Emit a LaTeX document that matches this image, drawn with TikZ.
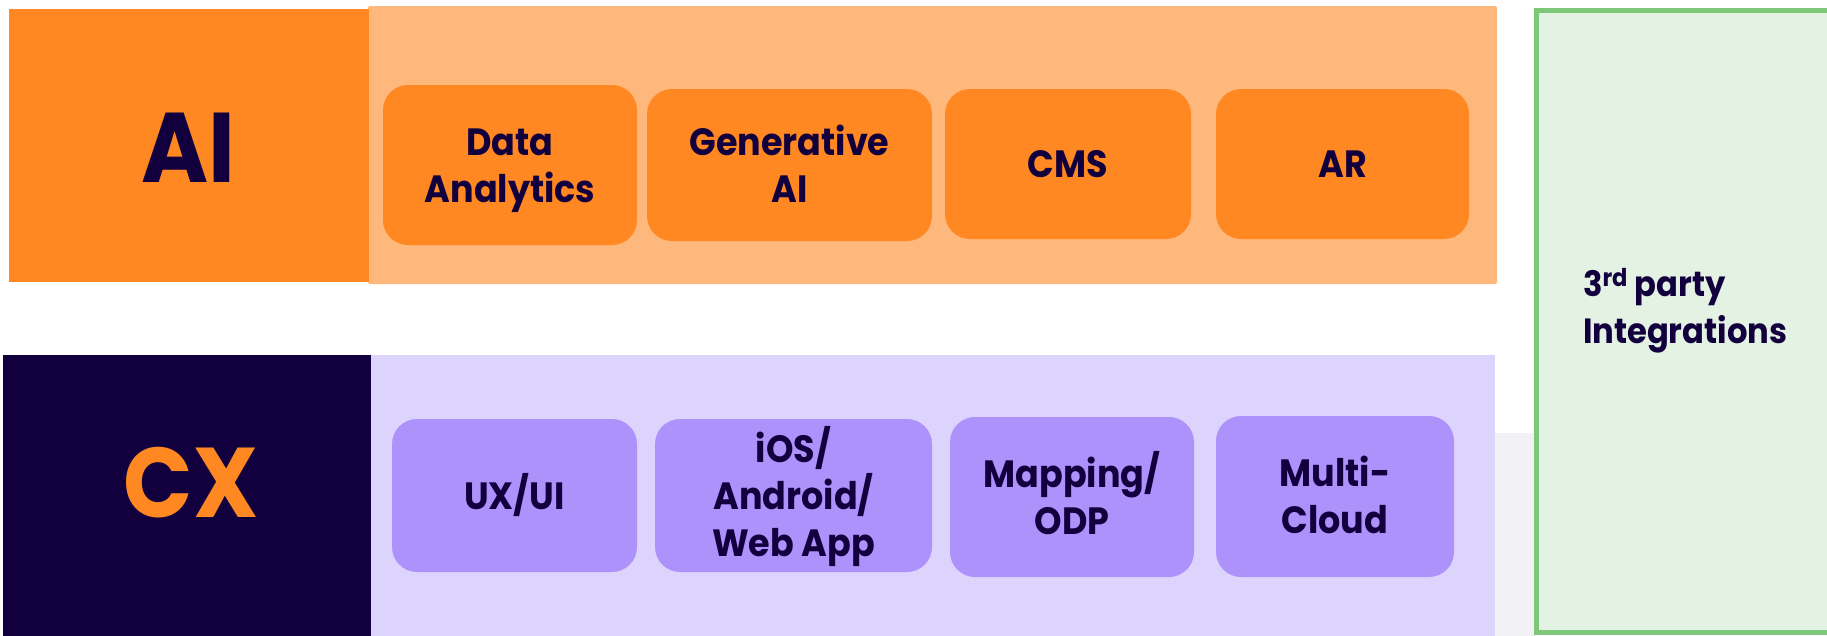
\documentclass[tikz,border=0pt]{standalone}
\usepackage{fontspec}
\setmainfont{Poppins}[FakeStretch=0.92]
\definecolor{aiorange}{HTML}{FF8822}
\definecolor{panelorange}{HTML}{FFB87B}
\definecolor{navy}{HTML}{12003E}
\definecolor{panellav}{HTML}{DDD4FD}
\definecolor{boxlav}{HTML}{AD92FC}
\definecolor{greenfill}{HTML}{E3F2E3}
\definecolor{greenline}{HTML}{7DC878}
\definecolor{stripgray}{HTML}{F2F1F6}
\newcommand\capl[1]{\rule{0pt}{27pt}\smash{#1}}
\newcommand\capbig[1]{\rule{0pt}{69pt}\smash{#1}}
\newcommand\capsm[1]{\rule{0pt}{24pt}\smash{#1}}
\tikzset{
  flat/.style={inner sep=0pt, outer sep=0pt, draw=none},
  tile/.style={flat, rounded corners=25pt, align=center, text=navy,
    font=\fontsize{38}{47}\selectfont\bfseries},
  aitile/.style={tile, fill=aiorange},
  cxtile/.style={tile, fill=boxlav},
  biglabel/.style={flat, font=\fontsize{99}{99}\selectfont\bfseries}
}
\begin{document}
\begin{tikzpicture}[x=1pt,y=-1pt]
\useasboundingbox (0,0) rectangle (1827,635);
\clip (0,0) rectangle (1827,635);
\fill[white] (0,0) rectangle (1827,635);
% AI row
\node[flat, fill=panelorange, rounded corners=2pt, minimum width=1129pt, minimum height=278pt] (aipanel) at (932.5,145) {};
\node[flat, fill=aiorange, minimum width=360pt, minimum height=273pt] (ai) at (189,145.5) {};
\node[biglabel, text=navy] (ailabel) at (188.5,147.5) {\capbig{AI}};
\node[aitile, minimum width=254pt, minimum height=160pt] (da) at (510,165) {\capl{Data}\\\capl{Analytics}};
\node[aitile, minimum width=285pt, minimum height=152pt] (gen) at (789.5,165) {\capl{Generative}\\\capl{AI}};
\node[aitile, minimum width=246pt, minimum height=150pt] (cms) at (1068,164) {\capl{CMS}};
\node[aitile, minimum width=253pt, minimum height=150pt] (ar) at (1342.5,164) {\capl{AR}};
% CX row
\node[flat, fill=stripgray, minimum width=41pt, minimum height=210pt] (strip) at (1515,538) {};
\node[flat, fill=panellav, minimum width=1124pt, minimum height=285pt] (cxpanel) at (933,497.5) {};
\node[flat, fill=navy, minimum width=368pt, minimum height=285pt] (cx) at (187,497.5) {};
\node[biglabel, text=aiorange] (cxlabel) at (191,482.5) {\capbig{CX}};
\node[cxtile, minimum width=245pt, minimum height=153pt] (ux) at (514.5,495.5) {\capl{UX/UI}};
\node[cxtile, minimum width=277pt, minimum height=153pt] (ios) at (793.5,495.5) {\capl{iOS/}\\\capl{Android/}\\\capl{Web App}};
\node[cxtile, minimum width=244pt, minimum height=160pt] (map) at (1072,497) {\capl{Mapping/}\\\capl{ODP}};
\node[cxtile, minimum width=238pt, minimum height=161pt] (mc) at (1335,496.5) {\capl{Multi-}\\\capl{Cloud}};
% 3rd party
\node[flat, fill=greenfill, draw=greenline, line width=5pt, minimum width=300pt, minimum height=622pt, anchor=north west] (third) at (1536.5,10) {};
\node[flat, anchor=north west, align=left, text=navy, font=\fontsize{35}{47}\selectfont\bfseries] (thirdlabel) at (1583,272) {\capsm{3\textsuperscript{rd} party}\\\capsm{Integrations}};
\end{tikzpicture}
\end{document}
